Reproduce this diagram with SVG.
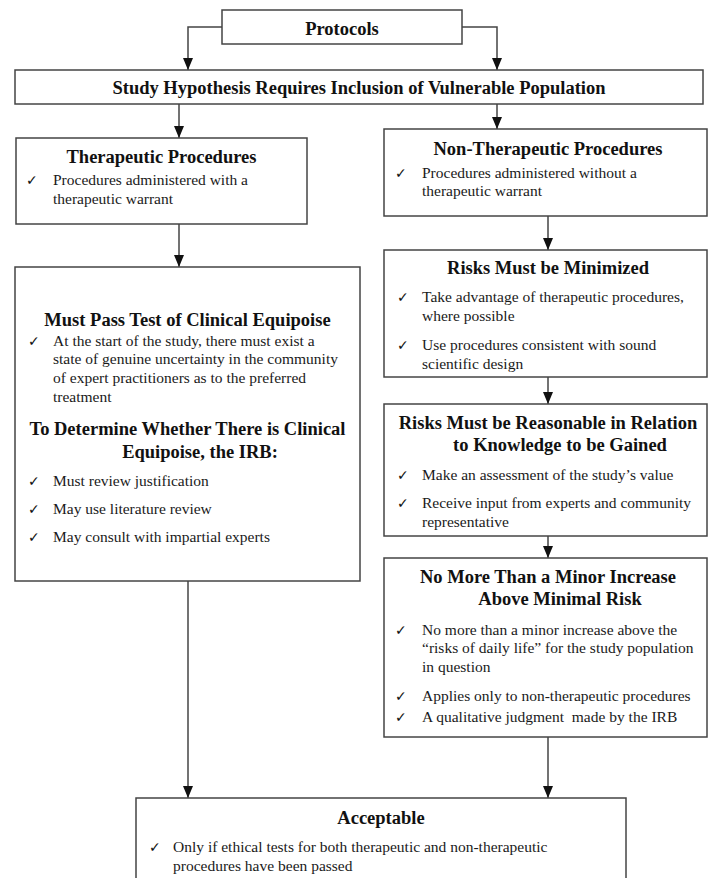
<svg xmlns="http://www.w3.org/2000/svg" width="709" height="878" viewBox="0 0 709 878">
<defs>
<marker id="ah" markerWidth="12" markerHeight="10" refX="12" refY="5" orient="auto" markerUnits="userSpaceOnUse" viewBox="0 0 12 10">
<path d="M0,0 L12,5 L0,10 Z" fill="#111"/>
</marker>
<style>
rect.box{fill:#fff;stroke:#444;stroke-width:1.5}
.t{font-family:"Liberation Serif","Times New Roman",serif;font-size:18.5px;font-weight:bold;fill:#111;text-anchor:middle}
.b{font-family:"Liberation Serif","Times New Roman",serif;font-size:15.5px;fill:#1a1a1a}
.c{font-family:"DejaVu Sans",sans-serif;font-size:14px;fill:#111}
.con path{fill:none;stroke:#444;stroke-width:1.5}
</style>
</defs>
<rect width="709" height="878" fill="#fff"/>
<g class="con" id="connectors">
<path d="M222,27 H188 V70" marker-end="url(#ah)"/>
<path d="M462,27 H497 V70" marker-end="url(#ah)"/>
<path d="M179,104 V138" marker-end="url(#ah)"/>
<path d="M497,104 V129" marker-end="url(#ah)"/>
<path d="M179,224 V267" marker-end="url(#ah)"/>
<path d="M548,216 V250" marker-end="url(#ah)"/>
<path d="M548,377 V404" marker-end="url(#ah)"/>
<path d="M548,536 V558" marker-end="url(#ah)"/>
<path d="M188,581 V798" marker-end="url(#ah)"/>
<path d="M548,737 V798" marker-end="url(#ah)"/>
</g>
<g id="protocols">
<rect class="box" x="222" y="10" width="240" height="34"/>
<text class="t" x="342" y="35">Protocols</text>
</g>
<g id="study">
<rect class="box" x="15" y="70" width="688" height="34"/>
<text class="t" x="359" y="94">Study Hypothesis Requires Inclusion of Vulnerable Population</text>
</g>
<g id="therapeutic">
<rect class="box" x="16" y="138" width="291" height="86"/>
<text class="t" x="161.5" y="163">Therapeutic Procedures</text>
<text class="c" x="26" y="185">✓</text>
<text class="b" x="53" y="185">Procedures administered with a</text>
<text class="b" x="53" y="204">therapeutic warrant</text>
</g>
<g id="equipoise">
<rect class="box" x="15" y="267" width="345" height="314"/>
<text class="t" x="187.5" y="326">Must Pass Test of Clinical Equipoise</text>
<text class="c" x="28" y="346">✓</text>
<text class="b" x="53" y="346">At the start of the study, there must exist a</text>
<text class="b" x="53" y="364">state of genuine uncertainty in the community</text>
<text class="b" x="53" y="383">of expert practitioners as to the preferred</text>
<text class="b" x="53" y="402">treatment</text>
<text class="t" x="187.5" y="435">To Determine Whether There is Clinical</text>
<text class="t" x="200" y="458">Equipoise, the IRB:</text>
<text class="c" x="28" y="486">✓</text>
<text class="b" x="53" y="486">Must review justification</text>
<text class="c" x="28" y="514">✓</text>
<text class="b" x="53" y="514">May use literature review</text>
<text class="c" x="28" y="542">✓</text>
<text class="b" x="53" y="542">May consult with impartial experts</text>
</g>
<g id="nontherapeutic">
<rect class="box" x="384" y="129" width="323" height="87"/>
<text class="t" x="548" y="155">Non-Therapeutic Procedures</text>
<text class="c" x="395" y="178">✓</text>
<text class="b" x="422" y="178">Procedures administered without a</text>
<text class="b" x="422" y="196">therapeutic warrant</text>
</g>
<g id="minimized">
<rect class="box" x="384" y="250" width="323" height="127"/>
<text class="t" x="548" y="274">Risks Must be Minimized</text>
<text class="c" x="397" y="302">✓</text>
<text class="b" x="422" y="302">Take advantage of therapeutic procedures,</text>
<text class="b" x="422" y="321">where possible</text>
<text class="c" x="397" y="350">✓</text>
<text class="b" x="422" y="350">Use procedures consistent with sound</text>
<text class="b" x="422" y="369">scientific design</text>
</g>
<g id="reasonable">
<rect class="box" x="384" y="404" width="323" height="132"/>
<text class="t" x="548" y="429">Risks Must be Reasonable in Relation</text>
<text class="t" x="560" y="451">to Knowledge to be Gained</text>
<text class="c" x="397" y="480">✓</text>
<text class="b" x="422" y="480">Make an assessment of the study’s value</text>
<text class="c" x="397" y="508">✓</text>
<text class="b" x="422" y="508">Receive input from experts and community</text>
<text class="b" x="422" y="527">representative</text>
</g>
<g id="minor">
<rect class="box" x="384" y="558" width="323" height="179"/>
<text class="t" x="548" y="583">No More Than a Minor Increase</text>
<text class="t" x="560" y="605">Above Minimal Risk</text>
<text class="c" x="395" y="635">✓</text>
<text class="b" x="422" y="635">No more than a minor increase above the</text>
<text class="b" x="422" y="653">“risks of daily life” for the study population</text>
<text class="b" x="422" y="672">in question</text>
<text class="c" x="395" y="701">✓</text>
<text class="b" x="422" y="701">Applies only to non-therapeutic procedures</text>
<text class="c" x="395" y="722">✓</text>
<text class="b" x="422" y="722">A qualitative judgment&#160; made by the IRB</text>
</g>
<g id="acceptable">
<rect class="box" x="136" y="798" width="490" height="100"/>
<text class="t" x="381" y="824">Acceptable</text>
<text class="c" x="149" y="852">✓</text>
<text class="b" x="173" y="852">Only if ethical tests for both therapeutic and non-therapeutic</text>
<text class="b" x="173" y="871">procedures have been passed</text>
</g>
</svg>
